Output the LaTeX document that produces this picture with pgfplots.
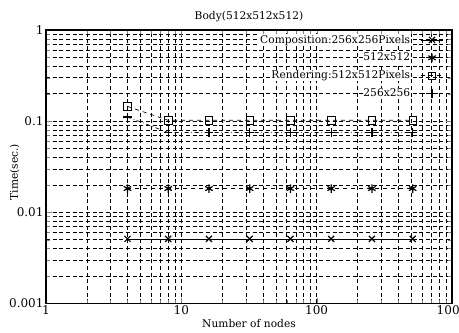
\documentclass[border=0pt]{standalone}
\usepackage{pgfplots}
\pgfplotsset{compat=1.18}
\usepackage{fontspec}
\setmainfont{DejaVu Serif}
\begin{document}
\fontsize{8}{9.5}\selectfont
\begin{tikzpicture}
\begin{axis}[
  name=ax,
  width=304.5pt, height=205pt, scale only axis,
  xmode=log, ymode=log,
  xmin=1, xmax=1000, ymin=0.001, ymax=1,
  xtick={1,10,100,1000}, xticklabels={1,10,100,1000},
  ytick={0.001,0.01,0.1,1}, yticklabels={0.001,0.01,0.1,1},
  /pgf/number format/assume math mode=true,
  ticklabel style={font=\fontsize{9}{10}\selectfont},
  xticklabel style={yshift=1.5pt},
  yticklabel style={xshift=1pt},
  grid=both,
  major grid style={black, densely dashed, line width=0.4pt},
  minor grid style={black, densely dashed, line width=0.3pt},
  axis line style={line width=0.8pt},
  tick align=inside,
  title={Body(512x512x512)},
  title style={yshift=-3pt, font=\fontsize{8}{9.5}\selectfont},
  xlabel={Number of nodes},
  xlabel style={yshift=2pt, font=\fontsize{8}{9.5}\selectfont},
  ylabel={Time(sec.)},
  ylabel style={at={(axis description cs:-0.077,0.48)}, anchor=center, font=\fontsize{8}{9.5}\selectfont},
  legend style={at={(axis cs:1000,1)}, anchor=north east, xshift=-3pt, yshift=-1pt,
    draw=none, fill=none, font=\fontsize{8}{9.5}\selectfont, row sep=5pt, column sep=7pt,
    nodes={fill=white, inner sep=0.6pt}},
  legend cell align=right,
  legend plot pos=right,
  every axis plot/.append style={black, line width=0.5pt},
]
\addplot[solid, mark=x, mark size=3.2pt, mark options={solid, line width=0.9pt}] coordinates {
 (4,0.0051) (8,0.0051) (16,0.0051) (32,0.0051) (64,0.0051) (128,0.0051) (256,0.0051) (512,0.0051)};
\addlegendentry{Composition:256x256Pixels}
\addplot[dashed, mark=asterisk, mark size=3.2pt, mark options={solid, line width=0.9pt}] coordinates {
 (4,0.0182) (8,0.0182) (16,0.0182) (32,0.0182) (64,0.0182) (128,0.0182) (256,0.0182) (512,0.0182)};
\addlegendentry{512x512}
\addplot[dashed, mark=square, mark size=2.8pt, mark options={solid, fill=white}] coordinates {
 (4,0.145) (8,0.102) (16,0.102) (32,0.102) (64,0.102) (128,0.102) (256,0.102) (512,0.102)};
\addlegendentry{Rendering:512x512Pixels}
\addplot[dash dot, mark=+, mark size=3.2pt, mark options={solid, line width=0.9pt}] coordinates {
 (4,0.111) (8,0.075) (16,0.075) (32,0.075) (64,0.075) (128,0.075) (256,0.075) (512,0.075)};
\addlegendentry{256x256}
\end{axis}
\pgfresetboundingbox
\useasboundingbox ([xshift=-34.5pt, yshift=-21.75pt]ax.south west) rectangle ([xshift=5.25pt, yshift=22.5pt]ax.north east);
\end{tikzpicture}
\end{document}
